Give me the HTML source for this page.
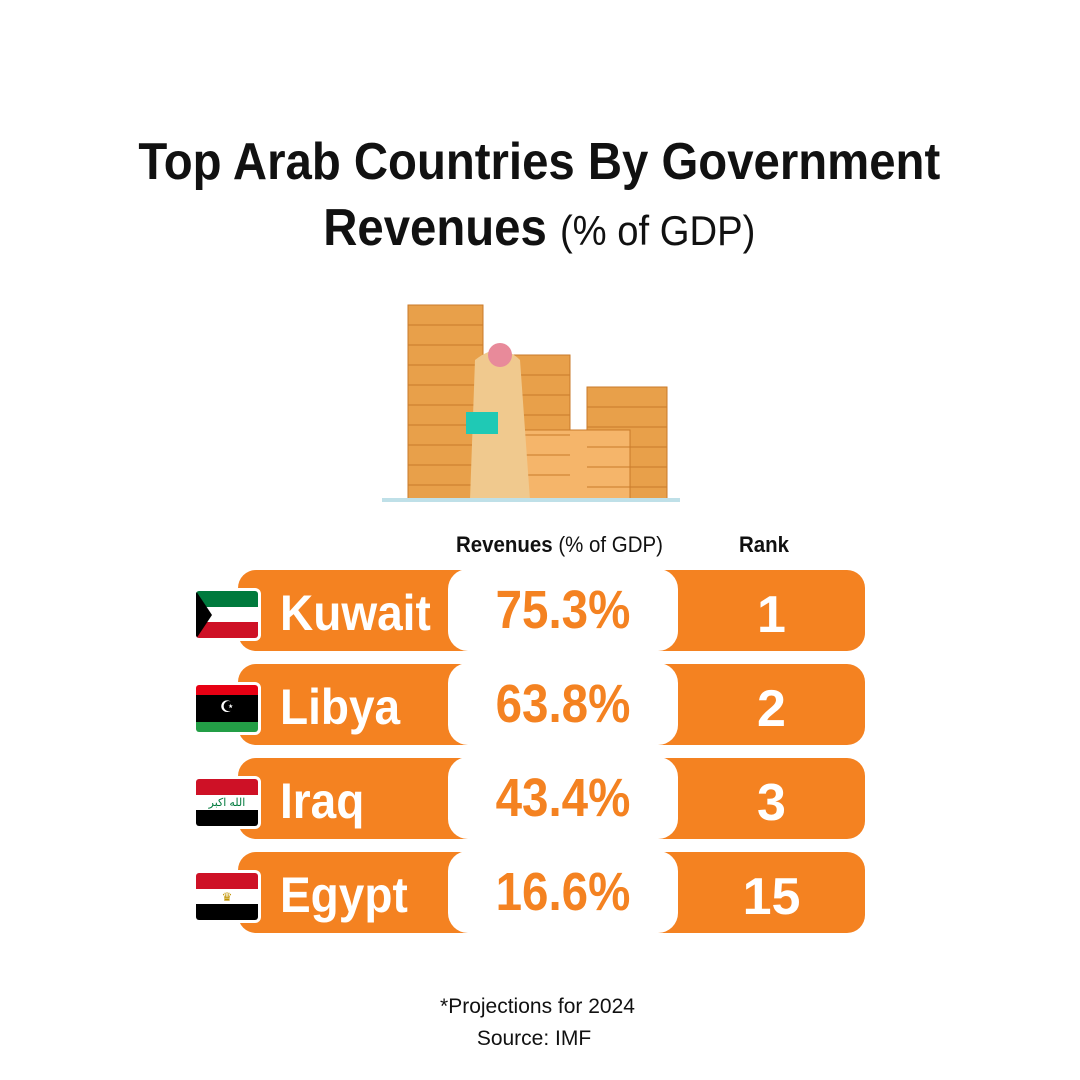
<!DOCTYPE html>
<html><head><meta charset="utf-8"><style>
body{margin:0;width:1080px;height:1080px;background:#fff;position:relative;overflow:hidden;font-family:"Liberation Sans",sans-serif;color:#111}
.t{position:absolute;left:0;width:1080px;text-align:center;font-weight:bold;font-size:52px;line-height:60px;transform:scaleX(0.91);transform-origin:532px 0}
.row{position:absolute;left:238px;width:627px;height:81px;background:#f48221;border-radius:18px}
.w{position:absolute;left:210px;top:-1px;width:230px;height:82px;background:#fff;border-radius:20px}
.w span{display:block;color:#f48221;font-weight:bold;font-size:54px;line-height:82px;text-align:center;transform:scaleX(0.88)}
.n{position:absolute;left:42px;top:0;color:#fff;font-weight:bold;font-size:50px;line-height:86px;transform:scaleX(0.92);transform-origin:0 0}
.r{position:absolute;left:440px;width:187px;top:0;color:#fff;font-weight:bold;font-size:52px;line-height:90px;text-align:center}
.f{position:absolute;left:-45px;top:18px;width:62px;height:47px;border:3px solid #fff;border-radius:6px;overflow:hidden;background:#fff}
.f div{height:33.3%}
.h{position:absolute;font-size:22px}
</style></head><body>
<div class="t" style="top:132px">Top Arab Countries By Government</div>
<div class="t" style="top:198px">Revenues <span style="font-weight:normal;font-size:42px">(% of GDP)</span></div>
<svg style="position:absolute;left:380px;top:300px" width="305" height="205">
<g fill="#e8a04a" stroke="#c97a2a" stroke-width="1">
<rect x="28" y="5" width="75" height="195"/>
<rect x="110" y="55" width="80" height="145"/>
<rect x="207" y="87" width="80" height="113"/>
<rect x="140" y="130" width="110" height="70" fill="#f5b56a"/>
</g>
<g stroke="#c97a2a" stroke-width="1">
<path d="M28 25H103M28 45H103M28 65H103M28 85H103M28 105H103M28 125H103M28 145H103M28 165H103M28 185H103M110 75H190M110 95H190M110 115H190M110 135H190M110 155H190M110 175H190M207 107H287M207 127H287M207 147H287M207 167H287M207 187H287"/>
</g>
<path d="M95 60 Q120 40 140 60 L150 200 H90 Z" fill="#f0c98e"/>
<circle cx="120" cy="55" r="12" fill="#e88a9a"/>
<rect x="86" y="112" width="32" height="22" fill="#1fc9b5"/>
<rect x="2" y="198" width="298" height="4" fill="#bfe0e8"/>
</svg>
<div class="h" style="left:456px;top:532px;transform:scaleX(0.93);transform-origin:0 0"><b>Revenues</b> (% of GDP)</div>
<div class="h" style="left:739px;top:532px;transform:scaleX(0.93);transform-origin:0 0"><b>Rank</b></div>

<div class="row" style="top:570px"><div class="f"><div style="background:#007a3d"></div><div style="background:#fff"></div><div style="background:#ce1126"></div><span style="position:absolute;left:0;top:0;width:0;height:0;border-left:16px solid #000;border-top:16px solid transparent;border-bottom:16px solid transparent;transform:scaleY(1.5);transform-origin:top"></span></div><div class="n">Kuwait</div><div class="w"><span>75.3%</span></div><div class="r">1</div></div>
<div class="row" style="top:664px"><div class="f"><div style="background:#e70013;height:22%"></div><div style="background:#000;height:56%;color:#fff;font-size:16px;text-align:center;line-height:26px">☪</div><div style="background:#239e46;height:22%"></div></div><div class="n">Libya</div><div class="w"><span>63.8%</span></div><div class="r">2</div></div>
<div class="row" style="top:758px"><div class="f"><div style="background:#ce1126"></div><div style="background:#fff;color:#007a3d;font-size:11px;text-align:center;line-height:16px">الله اكبر</div><div style="background:#000"></div></div><div class="n">Iraq</div><div class="w"><span>43.4%</span></div><div class="r">3</div></div>
<div class="row" style="top:852px"><div class="f"><div style="background:#ce1126"></div><div style="background:#fff;color:#c09300;font-size:12px;text-align:center;line-height:16px">♛</div><div style="background:#000"></div></div><div class="n">Egypt</div><div class="w"><span>16.6%</span></div><div class="r">15</div></div>

<div class="h" style="left:0;width:1075px;text-align:center;top:995px;font-size:21px">*Projections for 2024</div>
<div class="h" style="left:0;width:1068px;text-align:center;top:1027px;font-size:21px">Source: IMF</div>
</body></html>
